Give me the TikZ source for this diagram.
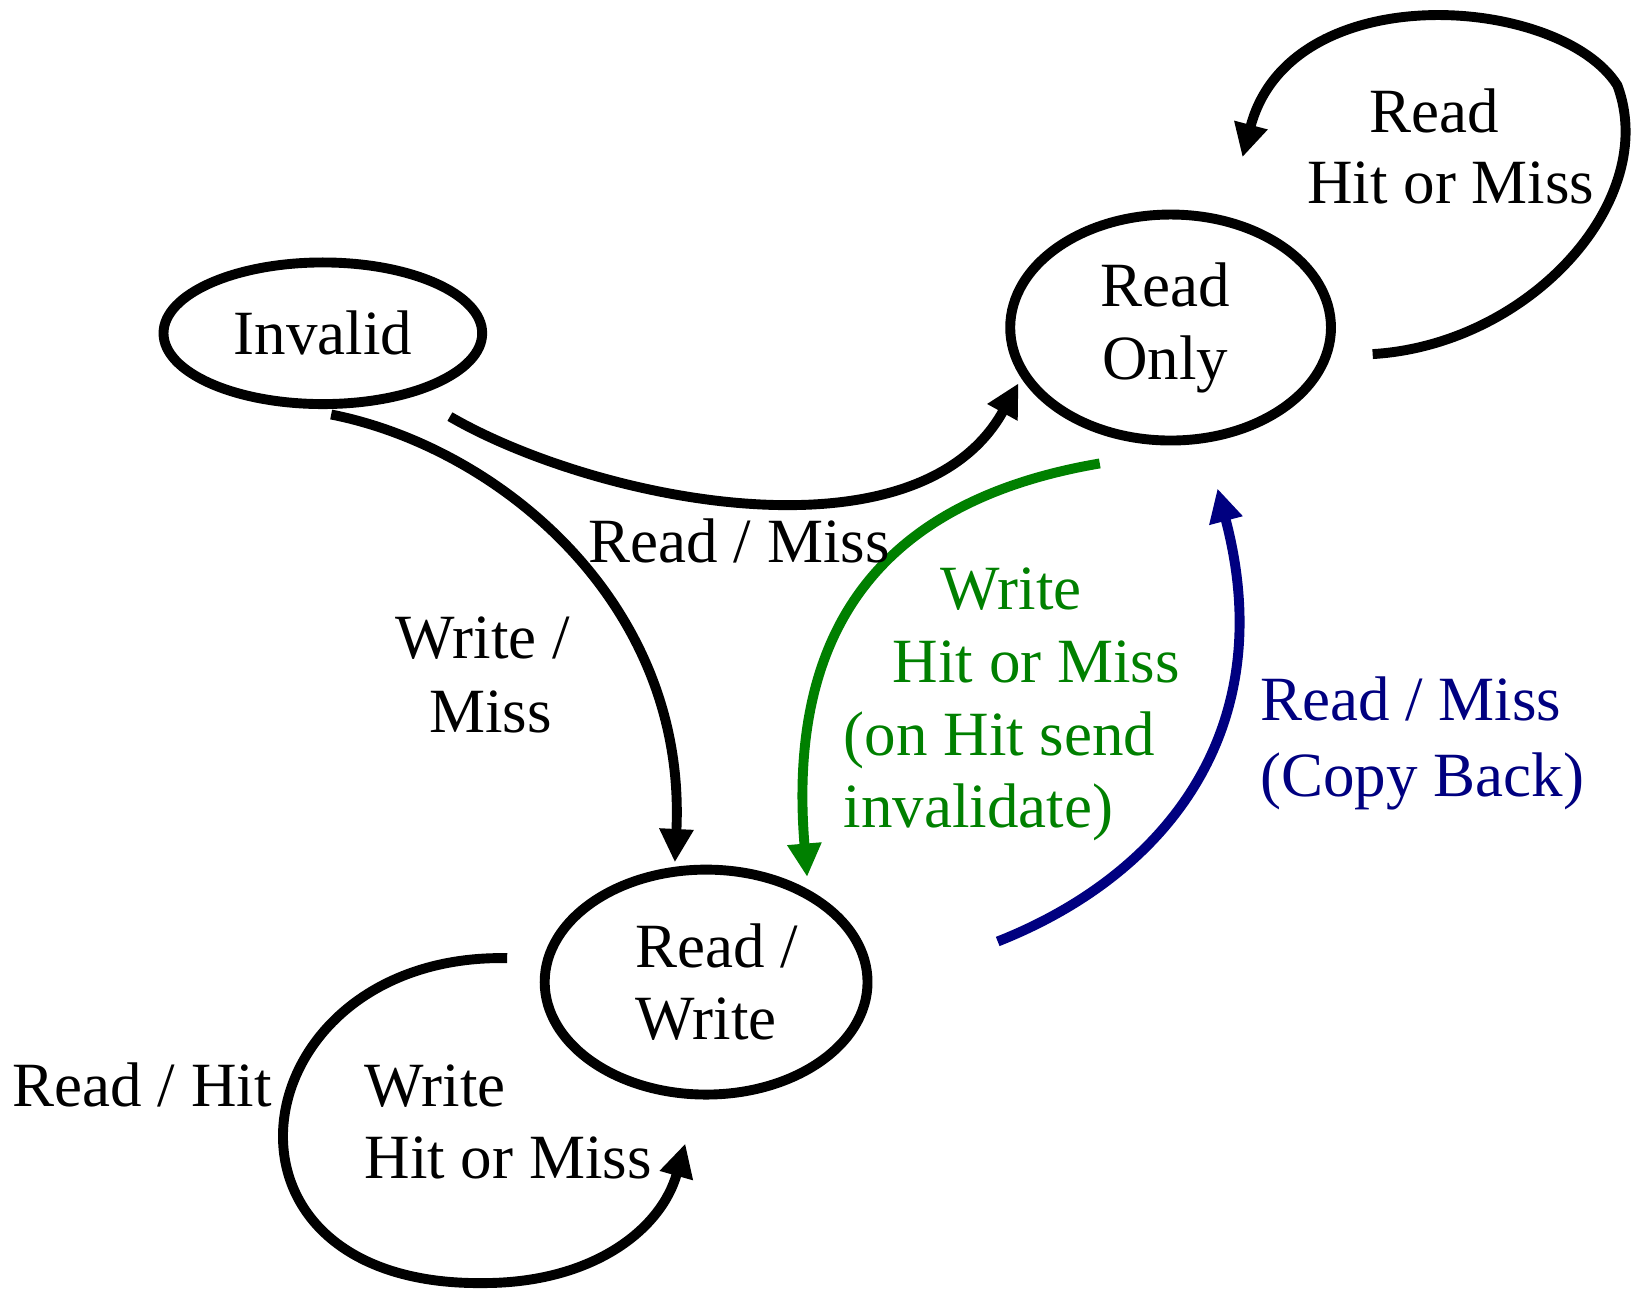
\documentclass[tikz,border=0pt]{standalone}
\usepackage{fontspec}
\setmainfont{Liberation Serif}
\usetikzlibrary{shapes.geometric,arrows.meta}
\definecolor{wgreen}{RGB}{0,128,0}
\definecolor{rnavy}{RGB}{0,0,128}
\begin{document}
\begin{tikzpicture}[x=1pt,y=-1pt,
  every node/.style={font=\fontsize{60.5}{70}\selectfont},
  state/.style={ellipse,draw,line width=9.5pt,inner sep=0pt,align=center},
  conn/.style={line width=9.5pt,-{Triangle[length=32pt,width=31pt]}},
  lbl/.style={anchor=base west,inner sep=0pt}]
\useasboundingbox[fill=white] (0,0) rectangle (1568,1246);
% states
\node[state,minimum width=306pt,minimum height=136pt] (inv) at (310,320) {Invalid};
\node[state,minimum width=308pt,minimum height=217pt] (ro) at (1124,314.5) {Read\hspace*{10pt}\\Only\hspace*{10pt}};
\node[state,minimum width=310pt,minimum height=216pt,yshift=-3pt] (rw) at (678,940) {\hspace*{20pt}Read /\\Write};
% connector end points
\coordinate (rmS) at (432,400);
\coordinate (rmE) at (978,368);
\coordinate (wmS) at (318,398);
\coordinate (wmE) at (648,828);
\coordinate (gS) at (1056,445);
\coordinate (gE) at (775,842);
\coordinate (bS) at (958,904);
\coordinate (bE) at (1169,469);
\coordinate (roS) at (1318,340);
\coordinate (roK) at (1553,82);
\coordinate (roE) at (1193,151);
\coordinate (rwS) at (487,920);
\coordinate (rwK) at (464,1232);
\coordinate (rwE) at (658,1098);
% connectors
\draw[conn] (rmS) .. controls (570,480) and (880,545) .. (rmE);
\draw[conn] (wmS) .. controls (480,430) and (660,580) .. (wmE);
\draw[conn,wgreen] (gS) .. controls (850,480) and (755,600) .. (gE);
\draw[conn,rnavy] (bS) .. controls (1120,840) and (1230,700) .. (bE);
\draw[conn] (roS) .. controls (1469,331) and (1594,192) .. (roK)
  .. controls (1498,-5) and (1239,-24) .. (roE);
\draw[conn] (rwS) .. controls (230,915) and (180,1235) .. (rwK)
  .. controls (570,1232) and (635,1180) .. (rwE);
% labels
\node[lbl] (l1) at (1315,127) {Read};
\node[lbl] (l2) at (1255,195) {Hit or Miss};
\node[lbl] (l3) at (565,540) {Read / Miss};
\node[lbl] (l4) at (380,632) {Write /};
\node[lbl] (l5) at (412,703) {Miss};
\node[lbl,text=wgreen] (g1) at (903,585) {Write};
\node[lbl,text=wgreen] (g2) at (857,655) {Hit or Miss};
\node[lbl,text=wgreen] (g3) at (810,725) {(on Hit send};
\node[lbl,text=wgreen] (g4) at (810,795) {invalidate)};
\node[lbl,text=rnavy] (b1) at (1210,692) {Read / Miss};
\node[lbl,text=rnavy] (b2) at (1210,765) {(Copy Back)};
\node[lbl] (h1) at (12,1062) {Read / Hit};
\node[lbl] (h2) at (350,1062) {Write};
\node[lbl] (h3) at (350,1132) {Hit or Miss};
\end{tikzpicture}
\end{document}
